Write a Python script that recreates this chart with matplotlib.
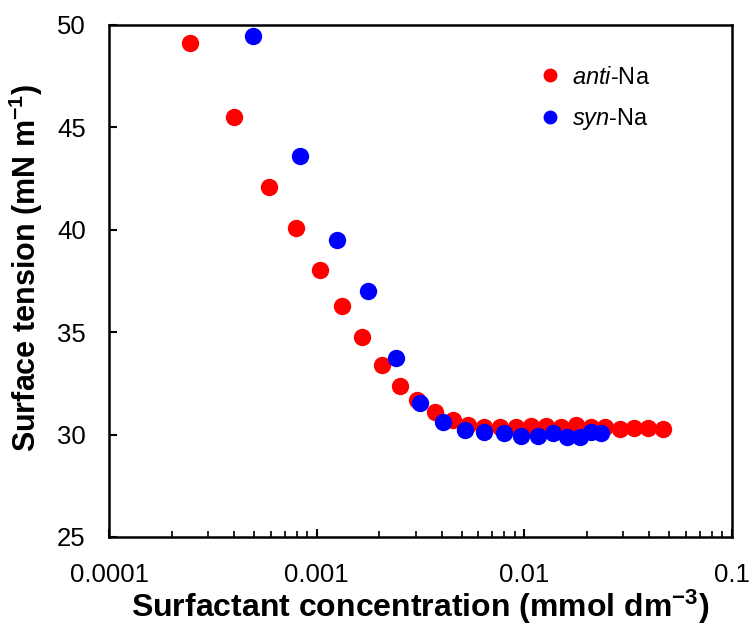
import matplotlib
matplotlib.use("Agg")
import matplotlib.pyplot as plt
from matplotlib.ticker import LogLocator, FixedLocator, FuncFormatter, NullFormatter

plt.rcParams['font.family'] = ['Liberation Sans', 'DejaVu Sans']
plt.rcParams['mathtext.fontset'] = 'custom'
plt.rcParams['mathtext.rm'] = 'Liberation Sans'
plt.rcParams['mathtext.it'] = 'Liberation Sans:italic'
plt.rcParams['mathtext.bf'] = 'Liberation Sans:bold'

# surface tension isotherms (conc in mmol dm-3, tension in mN m-1)
anti_conc = [2.45e-4, 3.99e-4, 5.89e-4, 7.94e-4, 1.04e-3, 1.32e-3, 1.66e-3,
             2.06e-3, 2.52e-3, 3.05e-3, 3.72e-3, 4.55e-3, 5.37e-3, 6.42e-3,
             7.64e-3, 9.13e-3, 1.08e-2, 1.28e-2, 1.50e-2, 1.78e-2, 2.10e-2,
             2.45e-2, 2.89e-2, 3.39e-2, 3.96e-2, 4.65e-2]
anti_tension = [49.1, 45.5, 42.1, 40.1, 38.05, 36.3, 34.75, 33.4, 32.37,
                31.69, 31.12, 30.71, 30.47, 30.39, 30.39, 30.36, 30.43,
                30.42, 30.39, 30.47, 30.39, 30.35, 30.26, 30.31, 30.31, 30.26]

syn_conc = [4.94e-4, 8.33e-4, 1.25e-3, 1.77e-3, 2.40e-3, 3.15e-3, 4.07e-3,
            5.18e-3, 6.42e-3, 7.98e-3, 9.64e-3, 1.16e-2, 1.38e-2, 1.60e-2,
            1.86e-2, 2.10e-2, 2.34e-2]
syn_tension = [49.48, 43.59, 39.5, 37.0, 33.76, 31.56, 30.63, 30.22, 30.14,
               30.06, 29.93, 29.93, 30.06, 29.9, 29.87, 30.14, 30.06]

x_ticks = [0.0001, 0.001, 0.01, 0.1]
x_ticklabels = ['0.0001', '0.001', '0.01', '0.1']
y_ticks = [25, 30, 35, 40, 45, 50]

fig = plt.figure(figsize=(7.51, 6.25), dpi=100)
ax = fig.add_axes([0.1455, 0.141, 0.8288, 0.819])

ax.plot(anti_conc, anti_tension, 'o', color='#ff0000', markersize=12.5,
        markeredgewidth=0, label=r'$\mathit{anti}$-Na')
ax.plot(syn_conc, syn_tension, 'o', color='#0000ff', markersize=12.5,
        markeredgewidth=0, label=r'$\mathit{syn}$-Na')

ax.set_xscale('log')
ax.set_xlim(1e-4, 1e-1)
ax.set_ylim(25, 50)

ax.xaxis.set_major_locator(FixedLocator(x_ticks))
ax.xaxis.set_major_formatter(FuncFormatter(lambda v, p: x_ticklabels[x_ticks.index(v)] if v in x_ticks else ''))
ax.xaxis.set_minor_locator(LogLocator(base=10, subs=range(2, 10), numticks=20))
ax.xaxis.set_minor_formatter(NullFormatter())
ax.set_yticks(y_ticks)

ax.tick_params(axis='both', which='major', direction='in', length=6, width=1.5,
               labelsize=18.5, color='black')
ax.tick_params(axis='x', which='major', pad=19)
ax.tick_params(axis='y', which='major', pad=17)
ax.tick_params(axis='x', which='minor', direction='in', length=4, width=1.2)

for spine in ax.spines.values():
    spine.set_linewidth(1.8)

ax.set_xlabel(r'Surfactant concentration (mmol dm$^{\mathbf{-3}}$)',
              fontsize=23, fontweight='bold', labelpad=0)
ax.set_ylabel(r'Surface tension (mN m$^{\mathbf{-1}}$)',
              fontsize=22, fontweight='bold')
ax.yaxis.set_label_coords(-0.104, 0.525)

ax.legend(loc='upper left', bbox_to_anchor=(0.655, 0.96), frameon=False,
          fontsize=17, markerscale=0.8, handletextpad=0.45, labelspacing=0.75,
          handlelength=1.0)

fig.savefig('out.png', dpi=100)
